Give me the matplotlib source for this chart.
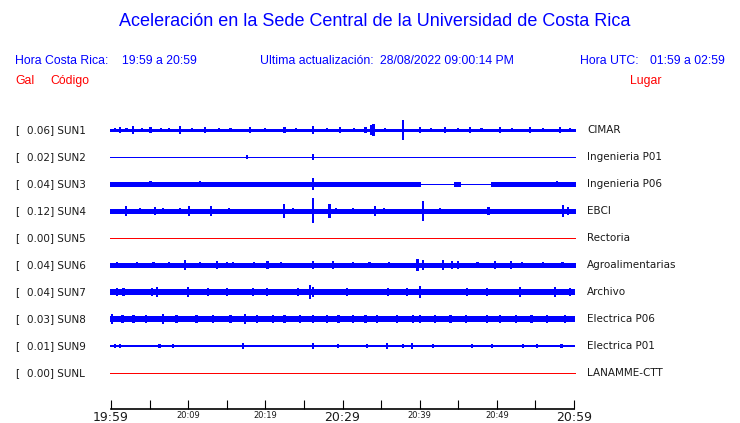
import matplotlib
matplotlib.use('Agg')
import matplotlib.pyplot as plt
from matplotlib.transforms import blended_transform_factory

# estaciones
codes = ['SUN1', 'SUN2', 'SUN3', 'SUN4', 'SUN5', 'SUN6', 'SUN7', 'SUN8', 'SUN9', 'SUNL']
places = ['CIMAR', 'Ingenieria P01', 'Ingenieria P06', 'EBCI', 'Rectoria',
          'Agroalimentarias', 'Archivo', 'Electrica P06', 'Electrica P01', 'LANAMME-CTT']
peaks = [0.06, 0.02, 0.04, 0.12, 0.00, 0.04, 0.04, 0.03, 0.01, 0.00]

# minutos desde 19:59, etiquetas del eje
tick_minutes = [0, 5, 10, 15, 20, 25, 30, 35, 40, 45, 50, 55, 60]
tick_labels = ['19:59', '', '20:09', '', '20:19', '', '20:29', '', '20:39', '', '20:49', '', '20:59']
big_labels = ['19:59', '20:29', '20:59']

# nivel de fondo de cada traza: (min inicio, min fin, media altura en px)
base_sun1 = [(0, 60, 1.3)]
base_sun2 = [(0, 60, 0.5)]
base_sun3 = [(0, 40.0, 2.5), (40.0, 44.5, 0.5), (44.5, 45.1, 2.5), (45.1, 49.4, 0.5), (49.4, 60, 2.5)]
base_sun4 = [(0, 60, 2.5)]
base_sun5 = [(0, 60, 0.5)]
base_sun6 = [(0, 60, 2.5)]
base_sun7 = [(0, 60, 3.0)]
base_sun8 = [(0, 60, 3.0)]
base_sun9 = [(0, 60, 1.0)]
base_sunl = [(0, 60, 0.5)]

# picos: minuto, media altura en px
t_sun1 = [0.5, 1.2, 2.0, 2.85, 4.0, 5.1, 6.5, 7.5, 8.9, 10.5, 12.2, 14.0, 15.5, 18.0, 20.0, 22.5, 24.0,
          26.2, 28.0, 29.7, 31.5, 33.0, 33.7, 34.0, 35.5, 37.8, 40.0, 41.5, 43.3, 45.0, 46.5, 48.0,
          50.4, 52.0, 54.3, 56.0, 58.2, 59.5]
a_sun1 = [2, 3, 2, 4, 2, 3, 2, 2, 4, 2, 3, 2, 2, 3, 2, 3, 2,
          4, 2, 3, 2, 3, 5, 6, 2, 10, 3, 2, 3, 2, 3, 2,
          3, 2, 3, 2, 3, 2]
t_sun2 = [17.6, 26.2]
a_sun2 = [2, 3]
t_sun3 = [5.1, 11.5, 26.2, 57.8]
a_sun3 = [3, 3, 6, 3]
t_sun4 = [1.9, 3.8, 5.7, 6.7, 8.9, 10.1, 13.0, 15.3, 22.4, 23.6, 26.2, 28.3, 29.2, 31.4, 34.2, 35.4,
          40.4, 42.6, 48.9, 58.6, 59.2]
a_sun4 = [5, 3, 4, 3, 3, 5, 5, 3, 7, 3, 12.5, 7, 3, 3, 5, 3, 10, 3, 4, 6, 4]
t_sun5 = []
a_sun5 = []
t_sun6 = [0.8, 3.4, 5.5, 7.5, 9.6, 11.5, 13.7, 15.0, 15.8, 18.5, 20.3, 22.0, 26.2, 28.8, 31.4, 33.5,
          36.0, 39.7, 40.4, 43.0, 44.2, 45.0, 47.5, 49.8, 51.8, 53.3, 56.0, 58.5]
a_sun6 = [3, 3, 3, 3, 5, 3, 4, 3, 3, 3, 4, 3, 4, 4, 3, 3,
          3, 6, 5, 5, 4, 4, 3, 4, 4, 3, 3, 3]
t_sun7 = [0.8, 1.6, 3.5, 5.3, 6.0, 8.0, 10.0, 12.6, 15.0, 18.4, 20.2, 22.0, 24.2, 25.8, 26.2, 28.5,
          30.6, 33.5, 35.9, 38.4, 40.0, 43.0, 46.1, 48.7, 51.0, 53.0, 55.5, 57.5, 59.5]
a_sun7 = [4, 4, 3, 4, 5, 3, 5, 4, 4, 4, 4, 3, 4, 7, 5, 3,
          4, 3, 4, 4, 6, 3, 4, 4, 3, 5, 3, 5, 4]
t_sun8 = [0.1, 1.5, 2.9, 4.5, 6.7, 8.5, 11.1, 13.2, 15.5, 17.4, 18.9, 21.0, 22.5, 24.5, 26.2, 28.0,
          29.5, 31.4, 33.0, 34.5, 37.1, 39.1, 40.0, 42.0, 44.0, 46.0, 48.7, 50.4, 52.5, 54.5,
          56.5, 58.8]
a_sun8 = [5, 4, 4, 4, 5, 4, 4, 4, 4, 5, 4, 4, 4, 4, 4, 4,
          4, 4, 4, 4, 4, 4, 4, 4, 4, 4, 4, 4, 4, 4,
          4, 4]
t_sun9 = [0.5, 1.2, 6.3, 8.0, 17.1, 26.2, 29.4, 33.2, 35.8, 37.8, 39.0, 41.7, 46.8, 49.4, 53.4, 55.2, 58.4]
a_sun9 = [2, 2, 2, 2, 3, 3, 2, 2, 3, 2, 3, 2, 2, 2, 2, 2, 2]
t_sunl = []
a_sunl = []

bases = [base_sun1, base_sun2, base_sun3, base_sun4, base_sun5,
         base_sun6, base_sun7, base_sun8, base_sun9, base_sunl]
bursts_t = [t_sun1, t_sun2, t_sun3, t_sun4, t_sun5, t_sun6, t_sun7, t_sun8, t_sun9, t_sunl]
bursts_a = [a_sun1, a_sun2, a_sun3, a_sun4, a_sun5, a_sun6, a_sun7, a_sun8, a_sun9, a_sunl]

BLUE = '#0000ff'
RED = '#ff0000'
TXT = '#1a1a1a'
ROW_PX = 27.0
PX2PT = 0.72

W, H = 740, 423
fig = plt.figure(figsize=(W / 100, H / 100), dpi=100)
top_px, bot_px = 115, 409
ax = fig.add_axes([111 / W, 1 - bot_px / H, 463 / W, (bot_px - top_px) / H])
ax.set_xlim(0, 60)
ax.set_ylim(-9 - (bot_px - 373) / ROW_PX, (130 - top_px) / ROW_PX)

for i in range(len(codes)):
    y = -i
    col = RED if peaks[i] == 0 else BLUE
    for t0, t1, h in bases[i]:
        ax.hlines(y, t0 - 0.1, t1 + 0.1, colors=col, linewidth=2 * h * PX2PT,
                  capstyle='butt', clip_on=False, antialiased=False)
    if bursts_t[i]:
        amp = [a / ROW_PX for a in bursts_a[i]]
        ax.bar(bursts_t[i], [2 * a for a in amp], width=0.3,
               bottom=[y - a for a in amp], color=col, linewidth=0)

# etiquetas de estaciones
tr = blended_transform_factory(fig.transFigure, ax.transData)
for i in range(len(codes)):
    ax.text(15 / W, -i, '[', transform=tr, ha='left', va='center', fontsize=7.5,
            color=TXT, family='DejaVu Sans')
    ax.text(27 / W, -i, '%.2f] %s' % (peaks[i], codes[i]), transform=tr, ha='left',
            va='center', fontsize=7.5, color=TXT, family='DejaVu Sans')
    ax.text(587 / W, -i, places[i], transform=tr, ha='left', va='center', fontsize=7.5,
            color=TXT, family='DejaVu Sans')

# eje de tiempo
for s in ['top', 'left', 'right']:
    ax.spines[s].set_visible(False)
ax.spines['bottom'].set_linewidth(1.2)
ax.set_yticks([])
ax.set_xticks(tick_minutes)
ax.set_xticklabels(tick_labels)
ax.tick_params(axis='x', direction='in', length=6.5, width=0.8, pad=1.5, color='black')
for lab in ax.get_xticklabels():
    lab.set_family('DejaVu Sans')
    lab.set_color(TXT)
    if lab.get_text() in big_labels:
        lab.set_fontsize(9)
    else:
        lab.set_fontsize(6)

# cabecera
fig.text(375 / W, 1 - 22 / H, 'Aceleración en la Sede Central de la Universidad de Costa Rica',
         ha='center', va='center', fontsize=13, color=BLUE, family='Liberation Sans')
hdr = dict(va='center', fontsize=8.8, family='Liberation Sans')
fig.text(15 / W, 1 - 61 / H, 'Hora Costa Rica:', color=BLUE, **hdr)
fig.text(122 / W, 1 - 61 / H, '19:59 a 20:59', color=BLUE, **hdr)
fig.text(260 / W, 1 - 61 / H, 'Ultima actualización:', color=BLUE, **hdr)
fig.text(380 / W, 1 - 61 / H, '28/08/2022 09:00:14 PM', color=BLUE, **hdr)
fig.text(580 / W, 1 - 61 / H, 'Hora UTC:', color=BLUE, **hdr)
fig.text(650 / W, 1 - 61 / H, '01:59 a 02:59', color=BLUE, **hdr)
fig.text(15 / W, 1 - 81 / H, 'Gal', color=RED, **hdr)
fig.text(50 / W, 1 - 81 / H, 'Código', color=RED, **hdr)
fig.text(630 / W, 1 - 81 / H, 'Lugar', color=RED, **hdr)

fig.savefig('out.png', dpi=100)
